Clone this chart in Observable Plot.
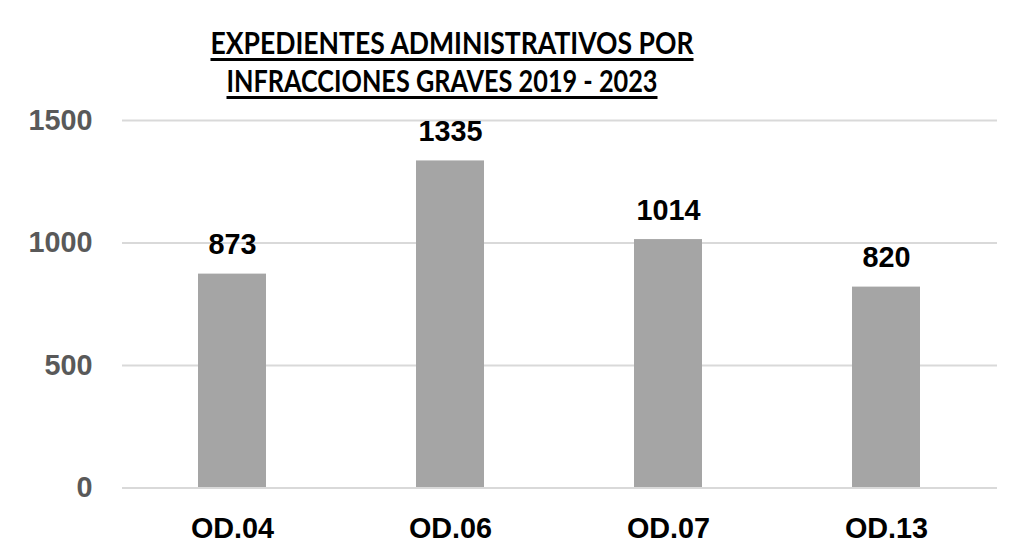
<!DOCTYPE html>
<html>
<head>
<meta charset="utf-8">
<script src="https://cdn.jsdelivr.net/npm/d3@7"></script>
<script src="https://cdn.jsdelivr.net/npm/@observablehq/plot@0.6"></script>
<style>
  html, body { margin: 0; padding: 0; background: #fff; }
  #wrap { position: relative; width: 1015px; height: 551px; overflow: hidden; }
  .tline {
    position: absolute; left: 0; width: 600px;
    text-align: center; font-family: Lato, "Liberation Sans", Arial, sans-serif;
    font-weight: bold; font-size: 30px; line-height: 39px; color: #000;
    white-space: nowrap; transform-origin: 50% 0;
  }
  .tline span {
    text-decoration: underline; text-decoration-thickness: 2.5px; text-underline-offset: 4px;
  }
  #chart svg { font-family: "Liberation Sans", Arial, sans-serif; }
</style>
</head>
<body>
<div id="wrap">
  <div id="chart"></div>
</div>
<script>
const titleLines = ["EXPEDIENTES ADMINISTRATIVOS POR", "INFRACCIONES GRAVES 2019 - 2023"];
const categories = ["OD.04", "OD.06", "OD.07", "OD.13"];
const values = [873, 1335, 1014, 820];
const yTicks = [0, 500, 1000, 1500];

const data = categories.map((c, i) => ({cat: c, value: values[i]}));

// title lines: target widths and centers
const titleWidths = [483, 431];
const titleCenters = [451.5, 441.5];
const titleTops = [23, 61];
const wrap = document.getElementById("wrap");
titleLines.forEach((t, i) => {
  const div = document.createElement("div");
  div.className = "tline";
  div.innerHTML = `<span>${t}</span>`;
  div.style.top = titleTops[i] + "px";
  div.style.left = (titleCenters[i] - 300) + "px";
  wrap.appendChild(div);
  const w = div.querySelector("span").getBoundingClientRect().width;
  div.style.transform = `scaleX(${titleWidths[i] / w})`;
});

const chart = Plot.plot({
  width: 1015,
  height: 551,
  marginTop: 120,
  marginBottom: 63.5,
  marginLeft: 122,
  marginRight: 18,
  style: {fontFamily: '"Liberation Sans", Arial, sans-serif', fontWeight: "bold", fontSize: "28.8px", background: "#fff"},
  x: {domain: categories, paddingInner: 0.687, paddingOuter: 0.3435, label: null},
  y: {domain: [0, 1500], label: null},
  marks: [
    Plot.gridY(yTicks, {stroke: "#d9d9d9", strokeOpacity: 1, strokeWidth: 1.8}),
    Plot.barY(data, {x: "cat", y: "value", fill: "#a5a5a5"}),
    Plot.ruleY([0], {stroke: "#d9d9d9", strokeWidth: 1.8}),
    Plot.axisY(yTicks, {tickSize: 0, tickPadding: 30, fill: "#595959", label: null, fontSize: 28.8, fontWeight: "bold", tickFormat: d => String(d)}),
    Plot.axisX({tickSize: 0, tickPadding: 30, fill: "#000", label: null, fontSize: 28.8, fontWeight: "bold"}),
    Plot.text(data, {x: "cat", y: "value", text: d => String(d.value), dy: -20, lineAnchor: "bottom", fill: "#000", fontSize: 28.8, fontWeight: "bold"})
  ]
});
wrap.insertBefore(chart, wrap.firstChild);
</script>
</body>
</html>
